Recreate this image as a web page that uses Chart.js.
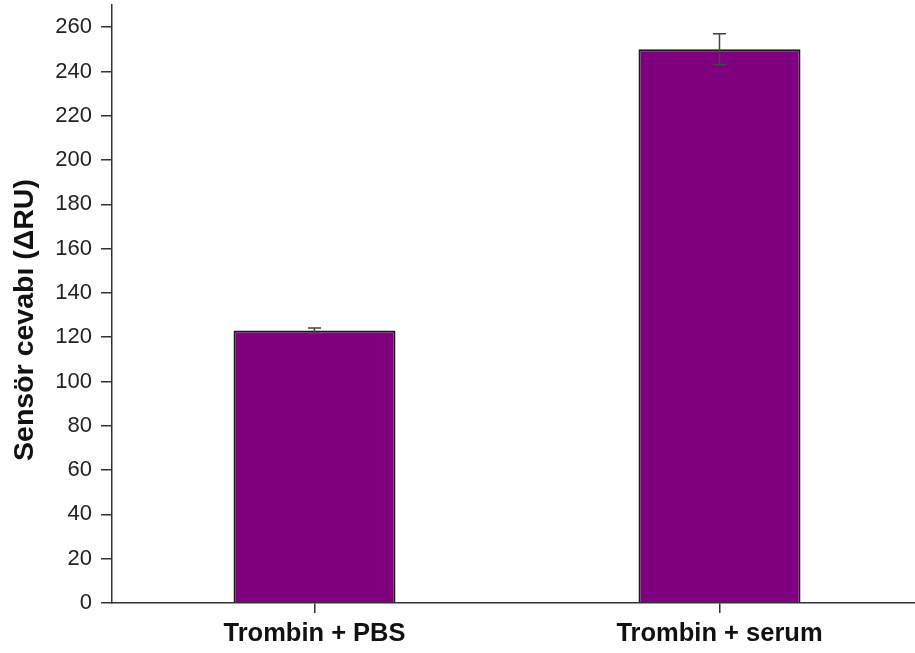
<!DOCTYPE html>
<html>
<head>
<meta charset="utf-8">
<script src="https://cdn.jsdelivr.net/npm/chart.js@4"></script>
<style>
html,body{margin:0;padding:0;background:#fff;overflow:hidden;}
#wrap{width:915px;height:653px;position:relative;overflow:hidden;}
</style>
</head>
<body>
<div id="wrap"><canvas id="c" width="922" height="653"></canvas></div>
<script>
const categories = ["Trombin + PBS", "Trombin + serum"];
const values = [123, 250];
const errors = [1.2, 7];
const yTicks = [0, 20, 40, 60, 80, 100, 120, 140, 160, 180, 200, 220, 240, 260];
const yTitle = 'Sensör cevabı (ΔRU)';

const errorBarPlugin = {
  id: 'errorBars',
  afterDatasetsDraw(chart) {
    const ctx = chart.ctx;
    const meta = chart.getDatasetMeta(0);
    const y = chart.scales.y;
    ctx.save();
    ctx.strokeStyle = '#444';
    ctx.lineWidth = 1.5;
    meta.data.forEach((bar, i) => {
      const x = bar.x;
      const top = y.getPixelForValue(values[i] + errors[i]);
      const bot = y.getPixelForValue(values[i] - errors[i]);
      ctx.beginPath();
      ctx.moveTo(x, top); ctx.lineTo(x, bot);
      ctx.moveTo(x - 6.5, top); ctx.lineTo(x + 6.5, top);
      ctx.moveTo(x - 6.5, bot); ctx.lineTo(x + 6.5, bot);
      ctx.stroke();
    });
    ctx.restore();
  }
};

const yTitlePlugin = {
  id: 'yTitle',
  afterDraw(chart) {
    const ctx = chart.ctx;
    const area = chart.chartArea;
    ctx.save();
    ctx.translate(25, (area.top + area.bottom) / 2 + 16);
    ctx.rotate(-Math.PI / 2);
    ctx.font = 'bold 28.5px "Liberation Sans"';
    ctx.fillStyle = '#111';
    ctx.textAlign = 'center';
    ctx.textBaseline = 'middle';
    ctx.fillText(yTitle, 0, 0);
    ctx.restore();
  }
};

new Chart(document.getElementById('c'), {
  type: 'bar',
  data: {
    labels: categories,
    datasets: [{
      data: values,
      backgroundColor: '#800080',
      borderColor: '#1a1a1a',
      borderWidth: 2,
      barPercentage: 0.4,
      categoryPercentage: 1.0
    }]
  },
  options: {
    responsive: false,
    animation: false,
    layout: { padding: { top: 5, right: 0, left: 0, bottom: 0 } },
    plugins: { legend: { display: false }, tooltip: { enabled: false } },
    scales: {
      x: {
        grid: { display: true, offset: false, drawOnChartArea: false, drawTicks: true, tickLength: 10, color: '#333', lineWidth: 1.5 },
        border: { color: '#333', width: 1.5 },
        ticks: { color: '#111', font: { family: 'Liberation Sans', size: 25.5, weight: 'bold' }, padding: 6 },
        afterFit(s) { s.height = 50; s.paddingLeft = 0; s.paddingRight = 0; }
      },
      y: {
        min: 0, max: 270,
        afterBuildTicks(s) { s.ticks = yTicks.map(v => ({ value: v })); },
        grid: { display: true, drawOnChartArea: false, drawTicks: true, tickLength: 11, color: '#333', lineWidth: 1.5 },
        border: { color: '#333', width: 1.5 },
        ticks: { color: '#222', font: { family: 'Liberation Sans', size: 22 }, padding: 9 },
        title: { display: false },
        afterFit(s) { s.width = 112; s.paddingTop = 0; s.paddingBottom = 0; }
      }
    }
  },
  plugins: [errorBarPlugin, yTitlePlugin]
});
</script>
</body>
</html>
